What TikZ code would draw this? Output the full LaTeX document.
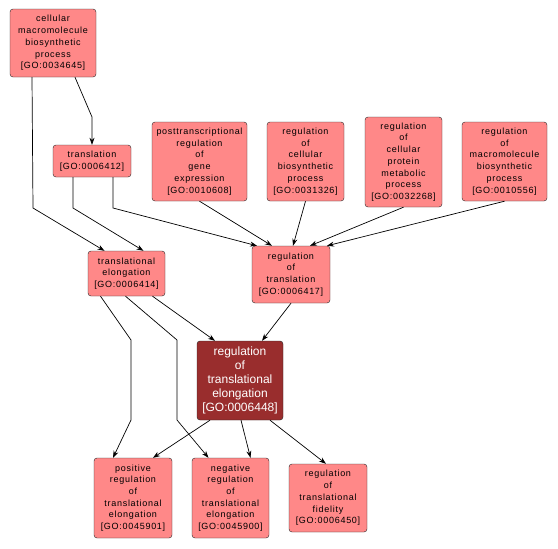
\documentclass[tikz,border=0pt]{standalone}
\usepackage{fontspec}
\setmainfont{Liberation Sans}
\newfontfamily\termfont[LetterSpace=8]{Liberation Sans}
\usetikzlibrary{arrows.meta}
\definecolor{termfill}{RGB}{255,136,136}
\definecolor{hitfill}{RGB}{153,45,45}
\begin{document}
\begin{tikzpicture}[x=1pt,y=-1pt,
  term/.style={draw=black!85,fill=termfill,rounded corners=3pt,align=center,inner sep=0pt,font=\termfont\fontsize{9}{11.7}\selectfont},
  hit/.style={term,fill=hitfill,text=white,font=\rmfamily\fontsize{12}{14}\selectfont},
  link/.style={-{Stealth[length=7pt,width=5pt]},line width=0.7pt}]
  \useasboundingbox (0,0) rectangle (558,549);
  \node[term,minimum width=86,minimum height=68] (cmbp) at (53,43) {cellular\\macromolecule\\biosynthetic\\process\\{[GO:0034645]}};
  \node[term,minimum width=78,minimum height=32] (transl) at (92,161) {translation\\{[GO:0006412]}};
  \node[term,minimum width=77,minimum height=45] (elong) at (126.5,273.5) {translational\\elongation\\{[GO:0006414]}};
  \node[term,minimum width=95,minimum height=79] (ptreg) at (199.5,161.5) {posttranscriptional\\regulation\\of\\gene\\expression\\{[GO:0010608]}};
  \node[term,minimum width=77,minimum height=79] (rcbp) at (305.5,161.5) {regulation\\of\\cellular\\biosynthetic\\process\\{[GO:0031326]}};
  \node[term,minimum width=77,minimum height=90] (rcpmp) at (403.5,162) {regulation\\of\\cellular\\protein\\metabolic\\process\\{[GO:0032268]}};
  \node[term,minimum width=85,minimum height=79] (rmbp) at (504.5,161.5) {regulation\\of\\macromolecule\\biosynthetic\\process\\{[GO:0010556]}};
  \node[term,minimum width=78,minimum height=57] (rtransl) at (291,274.5) {regulation\\of\\translation\\{[GO:0006417]}};
  \node[hit,minimum width=86,minimum height=79] (relong) at (240,380.5) {regulation\\of\\translational\\elongation\\{[GO:0006448]}};
  \node[term,minimum width=78,minimum height=80] (posrel) at (133,498) {positive\\regulation\\of\\translational\\elongation\\{[GO:0045901]}};
  \node[term,minimum width=77,minimum height=80] (negrel) at (230.5,498) {negative\\regulation\\of\\translational\\elongation\\{[GO:0045900]}};
  \node[term,minimum width=78,minimum height=68] (rfid) at (328,498) {regulation\\of\\translational\\fidelity\\{[GO:0006450]}};
  \draw[link] ([xshift=22]cmbp.south) -- (92,117) -- (transl.north);
  \draw[link] ([xshift=-21]cmbp.south) -- (33,208) -- ([xshift=-22]elong.north);
  \draw[link] ([xshift=-19]transl.south) -- (73,208) -- ([xshift=17]elong.north);
  \draw[link] ([xshift=21]transl.south) -- (113,208) -- ([xshift=-34]rtransl.north);
  \draw[link] (ptreg.south) -- ([xshift=-19]rtransl.north);
  \draw[link] (rcbp.south) -- ([xshift=2]rtransl.north);
  \draw[link] (rcpmp.south) -- ([xshift=19]rtransl.north);
  \draw[link] (rmbp.south) -- ([xshift=36]rtransl.north);
  \draw[link] ([xshift=26]elong.south) -- ([xshift=-25]relong.north);
  \draw[link] (rtransl.south) -- ([xshift=22]relong.north);
  \draw[link] ([xshift=-26]elong.south) -- (131,340) -- (131,420) -- ([xshift=-20]posrel.north);
  \draw[link] ([xshift=-1]elong.south) -- (177,340) -- (177,420) -- ([xshift=-22]negrel.north);
  \draw[link] ([xshift=-30]relong.south) -- ([xshift=20]posrel.north);
  \draw[link] ([xshift=1]relong.south) -- ([xshift=20]negrel.north);
  \draw[link] ([xshift=30]relong.south) -- ([xshift=-2]rfid.north);
\end{tikzpicture}
\end{document}
